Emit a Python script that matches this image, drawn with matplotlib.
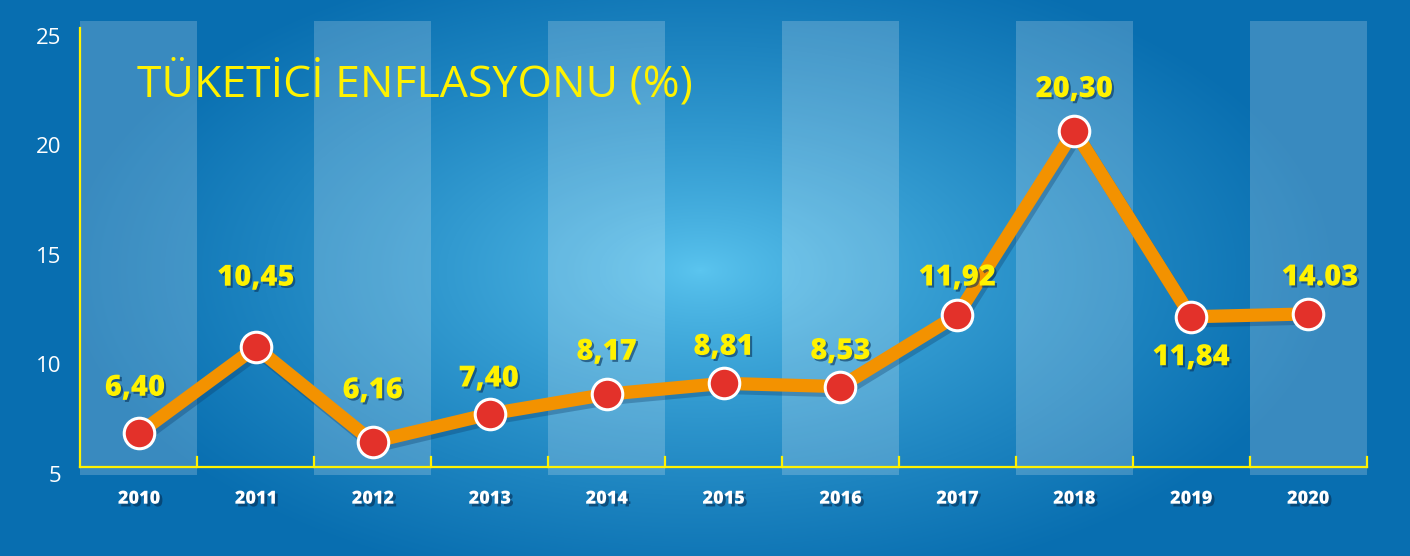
# Tüketici enflasyonu 2010-2020, blue infographic style line chart

import numpy as np
import matplotlib
matplotlib.use('Agg')
import matplotlib.pyplot as plt
import matplotlib.patheffects as pe

years = ['2010', '2011', '2012', '2013', '2014', '2015', '2016', '2017', '2018', '2019', '2020']
# point heights as drawn in the graphic
points = [6.86, 10.79, 6.47, 7.74, 8.64, 9.14, 8.99, 12.26, 20.68, 12.18, 12.31]
# value labels as printed
labels = ['6,40', '10,45', '6,16', '7,40', '8,17', '8,81', '8,53', '11,92', '20,30', '11,84', '14.03']
yticks = [5, 10, 15, 20, 25]
title = 'TÜKETİCİ ENFLASYONU (%)'

# label offsets in pixels (above / below the point)
label_off = [(-4, 45), (0, 69), (0, 51), (-1, 35), (0, 42), (0, 36),
             (0, 35), (0, 37), (0, 41), (0, -41), (12, 36)]

YELLOW = '#FFF200'
ORANGE = '#F39200'
RED = '#E3312A'
EDGE = np.array([8, 110, 176]) / 255
CENTER = np.array([92, 198, 240]) / 255

W, H = 1410, 556
fig = plt.figure(figsize=(W / 100, H / 100), dpi=100)

# radial background
bg = fig.add_axes([0, 0, 1, 1], zorder=0)
yy, xx = np.mgrid[0:H, 0:W]
t = np.sqrt(((xx - 700) / 640) ** 2 + ((yy - 270) / 330) ** 2)
t = np.clip(t, 0, 1) ** 0.75
img = CENTER[None, None, :] * (1 - t[..., None]) + EDGE[None, None, :] * t[..., None]
bg.imshow(img, aspect='auto', extent=(0, W, H, 0))
bg.axis('off')

ax = fig.add_axes([80.5 / W, (H - 474) / H, 1286 / W, 438 / H], zorder=1)
ax.set_facecolor('none')
x = np.arange(len(years))
ax.set_xlim(-0.5, len(years) - 0.5)
ax.set_ylim(5, 25)

# alternating light bands
for i in range(0, len(years), 2):
    ax.axvspan(i - 0.5, i + 0.5, ymin=-0.003, ymax=1.034, color='white', alpha=0.2,
               lw=0, clip_on=False, zorder=1)

# yellow axis lines
base = 7 / 438
ax.plot([-0.5, -0.5], [base, 1.018], color=YELLOW, lw=1.6,
        transform=ax.get_xaxis_transform(), clip_on=False, zorder=2)
ax.plot([-0.5, len(years) - 0.5], [base, base], color=YELLOW, lw=1.6,
        transform=ax.get_xaxis_transform(), clip_on=False, zorder=2)
for b in np.arange(0.5, len(years), 1.0):
    ax.plot([b, b], [base, base + 10 / 438], color=YELLOW, lw=1.6,
            transform=ax.get_xaxis_transform(), clip_on=False, zorder=2)

shadow = [pe.SimpleLineShadow(offset=(2, -3), shadow_color='#0a3560', alpha=0.3), pe.Normal()]
ax.plot(x, points, color=ORANGE, lw=9.5, solid_joinstyle='miter', zorder=3, path_effects=shadow)
ax.plot(x, points, 'o', ms=22, mfc=RED, mec='white', mew=2.2, zorder=4)

txt_shadow = [pe.SimplePatchShadow(offset=(1.5, -1.5), shadow_rgbFace='#08335c', alpha=0.6), pe.Normal()]
for xi, yi, lab, (dx, dy) in zip(x, points, labels, label_off):
    ax.annotate(lab, (xi, yi), xytext=(dx, dy), textcoords='offset pixels',
                ha='center', va='center', fontsize=21, fontweight='heavy',
                family='Open Sans', color=YELLOW, path_effects=txt_shadow, zorder=5)

ax.text(0.0437, 0.89, title, transform=ax.transAxes, fontsize=32, color=YELLOW,
        family='Open Sans', ha='left', va='center', zorder=5)

ax.set_xticks(x)
ax.set_xticklabels(years, fontsize=13, fontweight='heavy', family='Open Sans', color='white')
ax.set_yticks(yticks)
ax.set_yticklabels([str(v) for v in yticks], fontsize=16, family='Open Sans', color='white')
ax.tick_params(axis='x', length=0, pad=12)
ax.tick_params(axis='y', length=0, pad=14)
for tl in ax.get_xticklabels():
    tl.set_path_effects([pe.SimplePatchShadow(offset=(2, -2), shadow_rgbFace='#062d52', alpha=0.6), pe.Normal()])
for s in ax.spines.values():
    s.set_visible(False)

fig.savefig('out.png', dpi=100)
